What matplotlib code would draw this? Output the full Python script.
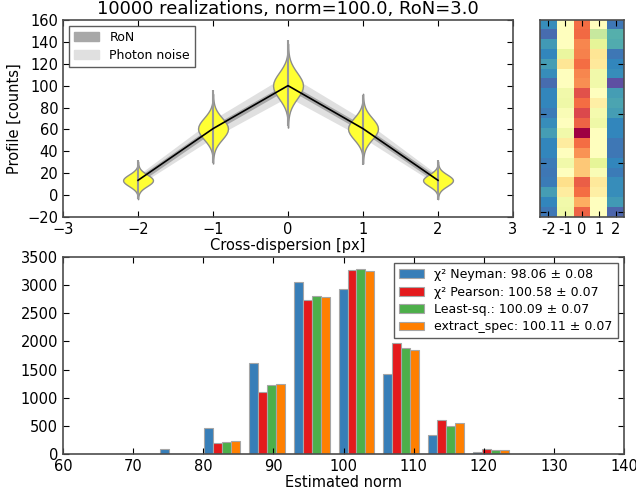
import numpy as np
import matplotlib
matplotlib.use('Agg')
import matplotlib.pyplot as plt
from matplotlib.patches import Patch

# true cross-dispersion profile and noise bands
pix = [-2, -1, 0, 1, 2]
profile = [13.5, 60.7, 100.0, 60.7, 13.5]
ron_err = [3.0, 3.0, 3.0, 3.0, 3.0]
phot_err = [4.7, 8.4, 10.4, 8.4, 4.7]

# violins of the realizations (centre, spread of the body, extrema)
vio_sig = [5.3, 9.8, 11.8, 9.8, 5.3]
vio_min = [-3.6, 29.2, 62.7, 27.7, -4.2]
vio_max = [32.3, 96.1, 141.8, 91.6, 32.3]
vio_z = [-3.25, -3.0, -2.75, -2.5, -2.25, -2.0, -1.75, -1.5, -1.25, -1.0,
         -0.75, -0.5, -0.25, 0.0, 0.25, 0.5, 0.75, 1.0, 1.25, 1.5, 1.75, 2.0,
         2.25, 2.5, 2.75, 3.0, 3.25]
vio_shape = [0.004, 0.011, 0.023, 0.044, 0.080, 0.135, 0.216, 0.325,
             0.458, 0.607, 0.755, 0.882, 0.969, 1.0, 0.969, 0.882, 0.755,
             0.607, 0.458, 0.325, 0.216, 0.135, 0.080, 0.044, 0.023, 0.011,
             0.004]

# first 20 realizations, row 0 at the bottom
realiz = [
    [9.8, 55.5, 102.5, 62.9, 6.0],
    [13.5, 56.7, 87.6, 62.9, 17.2],
    [18.4, 70.3, 100.0, 69.1, 14.7],
    [11.0, 75.3, 103.7, 71.6, 14.7],
    [9.8, 62.9, 81.4, 60.4, 11.0],
    [11.0, 56.7, 81.4, 50.5, 13.5],
    [13.5, 62.9, 92.6, 62.9, 9.8],
    [13.5, 70.3, 100.0, 62.9, 9.8],
    [18.4, 56.7, 125.0, 62.9, 13.5],
    [14.7, 62.9, 102.5, 55.5, 13.5],
    [11.0, 60.4, 109.9, 58.0, 18.4],
    [13.5, 55.5, 100.0, 69.1, 19.6],
    [13.5, 56.7, 107.4, 62.9, 18.4],
    [7.3, 62.9, 93.8, 56.7, 1.0],
    [14.7, 62.9, 95.0, 56.7, 14.7],
    [18.4, 72.8, 100.0, 71.6, 13.5],
    [13.5, 53.0, 96.3, 72.8, 9.8],
    [17.2, 62.9, 95.0, 50.5, 20.9],
    [7.3, 62.9, 101.0, 44.4, 22.1],
    [14.7, 62.9, 100.0, 62.9, 9.8],
]
im_ticklabels = ['-2', '-1', '0', '1', '2']

# histograms of the estimated norm
edges = [66.76, 73.14, 79.52, 85.90, 92.28, 98.66, 105.04, 111.42, 117.80,
         124.18, 130.56]
n_neyman = [8, 95, 456, 1614, 3064, 2933, 1413, 337, 30, 0]
n_pearson = [0, 8, 190, 1100, 2727, 3270, 1963, 603, 95, 5]
n_lsq = [0, 8, 207, 1219, 2809, 3287, 1880, 497, 77, 0]
n_xspec = [0, 8, 225, 1236, 2791, 3258, 1845, 550, 77, 5]
labels = [u'\u03c7\u00b2 Neyman: 98.06 \u00b1 0.08',
          u'\u03c7\u00b2 Pearson: 100.58 \u00b1 0.07',
          u'Least-sq.: 100.09 \u00b1 0.07',
          u'extract_spec: 100.11 \u00b1 0.07']
colors = ['#377eb8', '#e41a1c', '#4daf4a', '#ff7f00']

plt.rcParams['font.family'] = 'DejaVu Sans'
plt.rcParams['font.size'] = 10.5
plt.rcParams['xtick.direction'] = 'in'
plt.rcParams['ytick.direction'] = 'in'
plt.rcParams['xtick.top'] = True
plt.rcParams['ytick.right'] = True
plt.rcParams['xtick.major.size'] = 4
plt.rcParams['ytick.major.size'] = 4
plt.rcParams['axes.edgecolor'] = '0.3'
plt.rcParams['axes.linewidth'] = 1.2
plt.rcParams['legend.fontsize'] = 9

fig = plt.figure(figsize=(6.36, 4.98), dpi=100)
ax1 = fig.add_axes([0.0991, 0.5643, 0.7075, 0.3956])
ax2 = fig.add_axes([0.849, 0.5643, 0.132, 0.3956])
ax3 = fig.add_axes([0.0991, 0.0884, 0.882, 0.3956])

# --- profile panel
x = np.array(pix)
y = np.array(profile)
ax1.fill_between(x, y - np.array(phot_err), y + np.array(phot_err),
                 color='0.88', lw=0, zorder=1)
ax1.fill_between(x, y - np.array(ron_err), y + np.array(ron_err),
                 color='0.66', lw=0, zorder=2)
stats = []
for i in range(len(pix)):
    coords = profile[i] + vio_sig[i] * np.array(vio_z)
    stats.append(dict(coords=coords, vals=np.array(vio_shape),
                      mean=profile[i], median=profile[i],
                      min=vio_min[i], max=vio_max[i]))
vp = ax1.violin(stats, positions=pix, widths=0.4, showmeans=False,
                showextrema=False, showmedians=False)
for b in vp['bodies']:
    b.set_facecolor('#ffff33')
    b.set_edgecolor('0.55')
    b.set_linewidth(1.0)
    b.set_alpha(1)
    b.set_zorder(3)
ax1.vlines(pix, vio_min, vio_max, color='0.6', lw=1.5, zorder=4)
ax1.plot(pix, profile, color='k', lw=1.2, zorder=5)
ax1.set_xlim(-3, 3)
ax1.set_ylim(-20, 160)
ax1.set_yticks(range(-20, 161, 20))
ax1.set_xlabel('Cross-dispersion [px]', labelpad=1)
ax1.set_ylabel('Profile [counts]')
ax1.set_title('10000 realizations, norm=100.0, RoN=3.0', fontsize=13, pad=4)
h = [Patch(color='0.66', label='RoN'), Patch(color='0.88', label='Photon noise')]
leg = ax1.legend(handles=h, loc='upper left', fancybox=False, labelspacing=0.35,
                 borderaxespad=0.5)
leg.get_frame().set_edgecolor('0.2')

# --- realizations image
ax2.imshow(realiz, cmap='Spectral_r', origin='lower', interpolation='nearest',
           aspect='auto', extent=[-2.5, 2.5, -0.5, 19.5])
ax2.set_xticks(pix)
ax2.set_xticklabels(im_ticklabels)
ax2.set_yticks([0, 5, 10, 15])
ax2.set_yticklabels([])

# --- histograms
centers = [0.5 * (edges[k] + edges[k + 1]) for k in range(len(edges) - 1)]
ax3.hist([centers] * 4, bins=edges,
         weights=[n_neyman, n_pearson, n_lsq, n_xspec],
         color=colors, label=labels, edgecolor='0.65', linewidth=0.8)
ax3.set_xlim(60, 140)
ax3.set_ylim(0, 3500)
ax3.set_xticks(range(60, 141, 10))
ax3.set_yticks(range(0, 3501, 500))
ax3.set_xlabel('Estimated norm', labelpad=1)
leg = ax3.legend(loc='upper right', fancybox=False, labelspacing=0.35)
leg.get_frame().set_edgecolor('0.2')

fig.savefig('out.png', dpi=100)
